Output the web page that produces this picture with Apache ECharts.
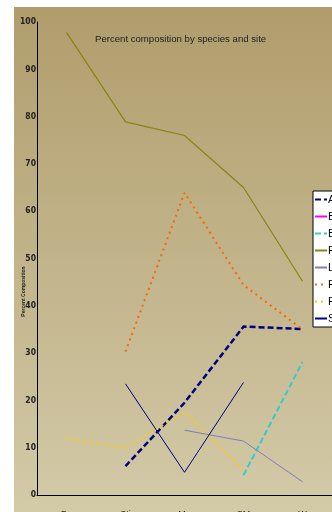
<!DOCTYPE html>
<html>
<head>
<meta charset="utf-8">
<script src="https://cdn.jsdelivr.net/npm/echarts@6/dist/echarts.min.js"></script>
<style>
  html, body { margin: 0; padding: 0; background: #ffffff; }
  #chart { width: 332px; height: 512px; }
</style>
</head>
<body>
<div id="chart"></div>
<script>
// Sites along the x axis
var sites = ['Bu', 'Sti', 'Mn', 'SM', 'W'];

// Percent composition per species at each site (null = not recorded)
var speciesA = [null, 6.1, 19.5, 35.6, 35.1];
var speciesB1 = [null, null, null, null, null];
var speciesB2 = [null, null, null, 4.2, 28.1];
var speciesF1 = [97.8, 78.9, 76.0, 65.0, 45.2];
var speciesL = [null, null, 13.7, 11.4, 2.8];
var speciesF2 = [null, 30.3, 63.9, 44.4, 35.0];
var speciesF3 = [12.0, 9.9, 17.5, 5.3, null];
var speciesS = [null, 23.5, 4.8, 23.8, null];

var speciesNames = ['Alder', 'Birch', 'Beech', 'Fir', 'Larch', 'Fraser fir', 'Fescue', 'Spruce'];

// Y axis ticks
var yTicks = [0, 10, 20, 30, 40, 50, 60, 70, 80, 90, 100];

var chart = echarts.init(document.getElementById('chart'), null, { renderer: 'canvas' });

function line(name, data, color, width, type) {
  return {
    name: name,
    type: 'line',
    data: data,
    symbol: 'none',
    connectNulls: false,
    lineStyle: { color: color, width: width, type: type },
    itemStyle: { color: color },
    emphasis: { disabled: true },
    animation: false
  };
}

var option = {
  animation: false,
  graphic: [{
    type: 'rect',
    left: 14, top: 7,
    shape: { width: 318, height: 505 },
    silent: true,
    z: -10,
    style: {
      fill: new echarts.graphic.LinearGradient(0, 0, 0, 1, [
        { offset: 0, color: '#b09d6c' },
        { offset: 1, color: '#d3caa8' }
      ])
    }
  }],
  title: {
    text: 'Percent composition by species and site',
    left: 90, top: 29,
    textStyle: { fontSize: 9.6, fontWeight: 'normal', color: '#222', fontFamily: 'Liberation Sans' }
  },
  grid: { left: 37, top: 22, right: 0, bottom: 17, containLabel: false, outerBoundsMode: 'none' },
  legend: {
    orient: 'vertical',
    left: 313, top: 191,
    backgroundColor: '#ffffff',
    borderColor: '#000000',
    borderWidth: 1,
    borderRadius: 0,
    padding: [3, 2, 3, 1],
    itemGap: 6,
    itemWidth: 12,
    itemHeight: 11,
    itemStyle: { opacity: 0 },
    textStyle: { fontSize: 11, color: '#000', padding: [0, 0, 0, -4], fontFamily: 'Liberation Sans' },
    data: speciesNames
  },
  xAxis: {
    type: 'category',
    data: sites,
    boundaryGap: true,
    axisLine: { lineStyle: { color: '#000', width: 1 } },
    axisTick: { inside: true, length: 3, lineStyle: { color: '#000' } },
    axisLabel: { margin: 15, fontSize: 9, color: '#222', fontFamily: 'Liberation Sans' },
    splitLine: { show: false }
  },
  yAxis: {
    type: 'value',
    min: yTicks[0], max: yTicks[yTicks.length - 1], interval: yTicks[1] - yTicks[0],
    name: 'Percent Composition',
    nameLocation: 'middle',
    nameGap: 11,
    nameMoveOverlap: false,
    nameRotate: 90,
    nameTextStyle: { fontSize: 5, fontWeight: 'bold', color: '#222', padding: [0, 0, 0, -66] },
    axisLine: { show: true, lineStyle: { color: '#000', width: 1 } },
    axisTick: { show: false },
    axisLabel: { margin: 1, fontSize: 8.5, fontWeight: 'bold', color: '#222', fontFamily: 'DejaVu Sans Condensed' },
    splitLine: { show: false }
  },
  series: [
    line(speciesNames[0], speciesA, '#000080', 2.5, [6, 3]),
    line(speciesNames[1], speciesB1, '#ff00ff', 1, 'solid'),
    line(speciesNames[2], speciesB2, '#33cccc', 2, [6, 3]),
    line(speciesNames[3], speciesF1, '#858512', 1.2, 'solid'),
    line(speciesNames[4], speciesL, '#7f7fb8', 1, 'solid'),
    line(speciesNames[5], speciesF2, '#ff6600', 2, [2, 4]),
    line(speciesNames[6], speciesF3, '#ffcc00', 2, [2, 4]),
    line(speciesNames[7], speciesS, '#000080', 1, 'solid')
  ]
};

chart.setOption(option);
</script>
</body>
</html>
